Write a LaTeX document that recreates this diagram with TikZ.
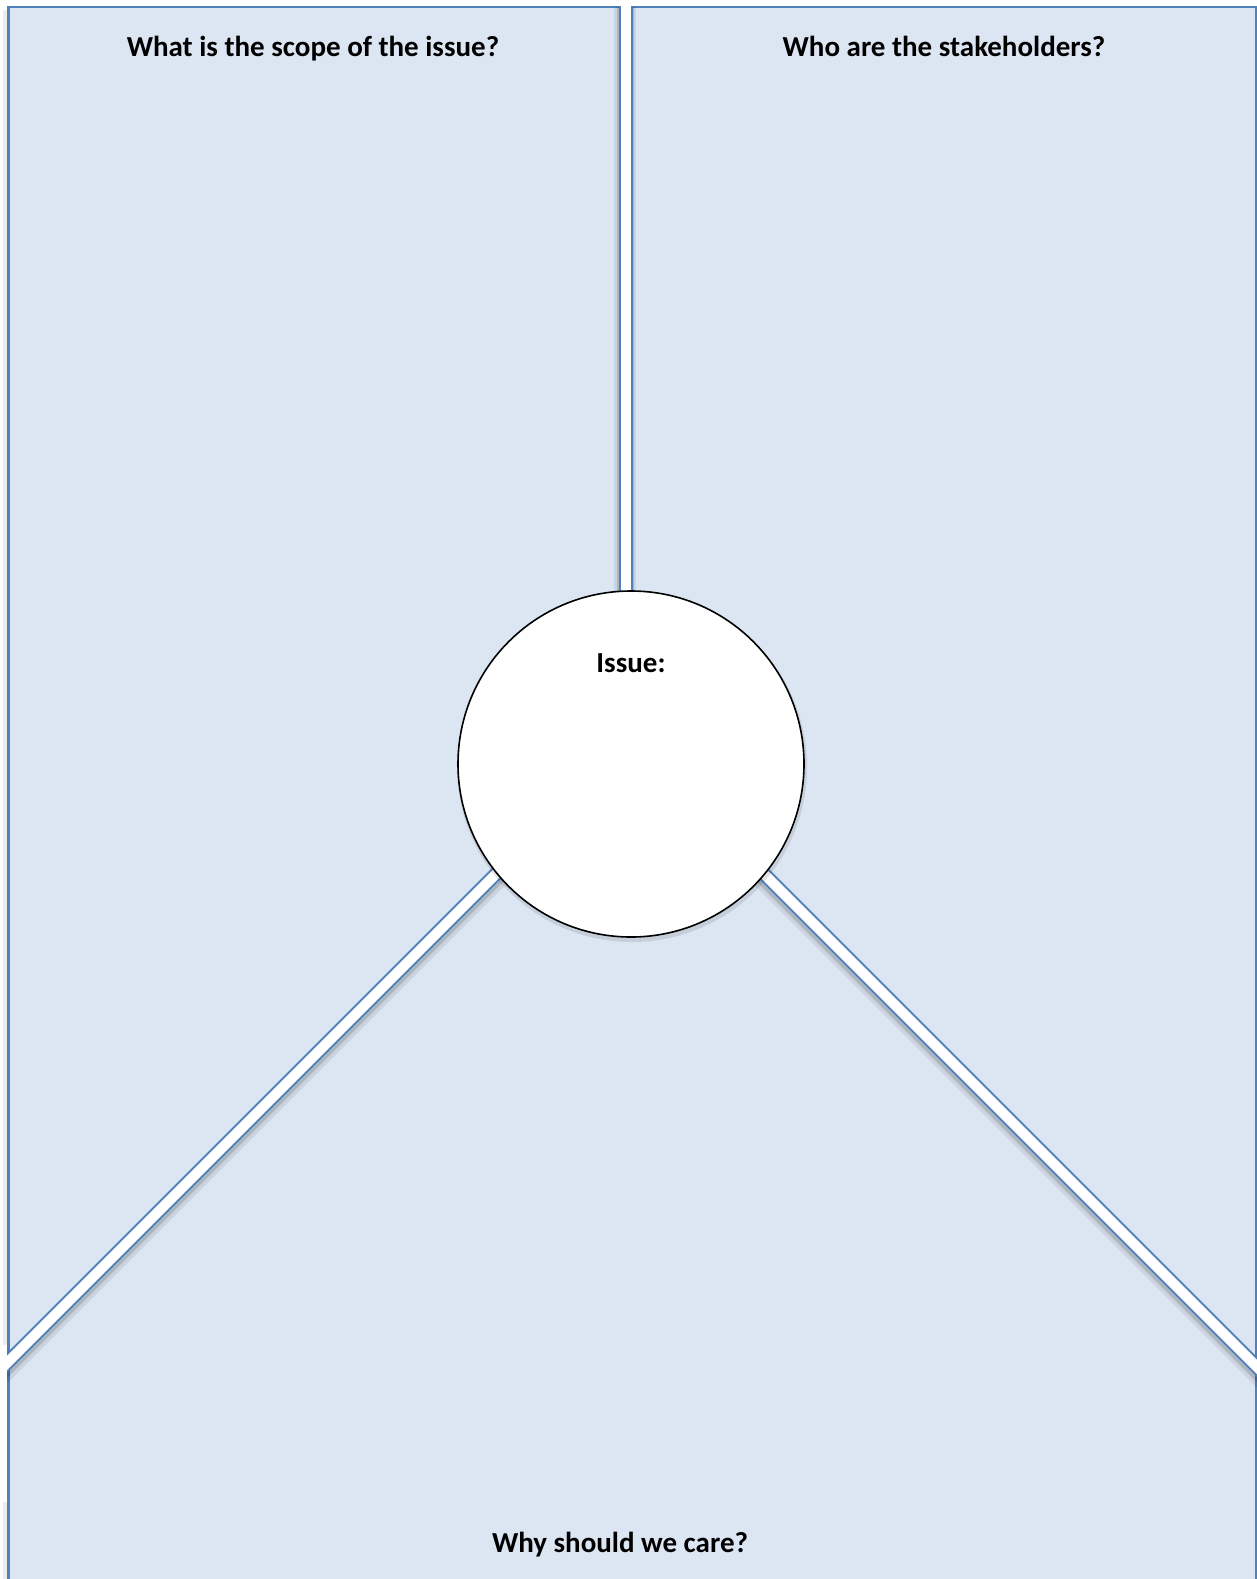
\documentclass[tikz,border=0pt]{standalone}
\usepackage{fontspec}
\setmainfont{Carlito}
\definecolor{panel}{HTML}{DCE6F2}
\definecolor{edgeblue}{HTML}{4F81BD}
\begin{document}
\begin{tikzpicture}[x=1pt,y=-1pt,
  lbl/.style={font=\fontsize{29}{34}\selectfont\bfseries, anchor=base, inner sep=0pt},
  chanedge/.style={draw=edgeblue, line width=14pt},
  chanwhite/.style={draw=white, line width=10pt},
  softshadow/.style={draw=black, opacity=0.08, line width=22pt},
  hardshadow/.style={draw=black, opacity=0.14, line width=17pt},
  frameline/.style={draw=edgeblue, line width=2.5pt},
  issuecircle/.style={circle, draw=black, fill=white, line width=1.6pt, minimum size=346pt, inner sep=0pt}
]
\useasboundingbox (0,0) rectangle (1257,1579);
\fill[white] (0,0) rectangle (1257,1579);
\fill[panel] (8,7) rectangle (1257,1579);
% faint shadow strip on the left margin
\fill[black!7] (3,10) rectangle (8,1345);
\fill[black!7] (3,1502) rectangle (8,1579);
% frame
\draw[frameline] (8.5,1579) -- (8.5,7) -- (1256,7) -- (1256,1579);

% channel end points
\coordinate (vtop) at (626,-5);
\coordinate (vedge) at (626,7);
\coordinate (vbot) at (626,650);
\coordinate (la) at (505,865);
\coordinate (lb) at (-20,1390);
\coordinate (ra) at (755,865);
\coordinate (rb) at (1280,1390);

% vertical channel
\draw[softshadow] ([xshift=-1pt]vedge) -- ([xshift=-1pt]vbot);
\draw[hardshadow] ([xshift=-1pt]vedge) -- ([xshift=-1pt]vbot);
\draw[chanedge] (vedge) -- (vbot);
\draw[chanwhite] (vtop) -- (vbot);

% diagonal channels
\begin{scope}
\clip (7,0) rectangle (1257,1579);
\draw[softshadow] ([xshift=2.5pt,yshift=-2.5pt]la) -- ([xshift=2.5pt,yshift=-2.5pt]lb);
\draw[hardshadow] ([xshift=1.5pt,yshift=-1.5pt]la) -- ([xshift=1.5pt,yshift=-1.5pt]lb);
\draw[chanedge] (la) -- (lb);
\draw[chanwhite] (la) -- (lb);
\draw[softshadow] ([xshift=-2.5pt,yshift=-2.5pt]ra) -- ([xshift=-2.5pt,yshift=-2.5pt]rb);
\draw[hardshadow] ([xshift=-1.5pt,yshift=-1.5pt]ra) -- ([xshift=-1.5pt,yshift=-1.5pt]rb);
\draw[chanedge] (ra) -- (rb);
\draw[chanwhite] (ra) -- (rb);
\end{scope}

% central circle
\fill[black, opacity=0.10] (632,767) circle (175pt);
\node[issuecircle] (issue) at (631,764) {};

% labels
\node[lbl] (scope) at (313,57) {What is the scope of the issue?};
\node[lbl] (stake) at (944,57) {Who are the stakeholders?};
\node[lbl] (issuelbl) at (631,672) {Issue:};
\node[lbl] (care) at (620,1552) {Why should we care?};
\end{tikzpicture}
\end{document}
